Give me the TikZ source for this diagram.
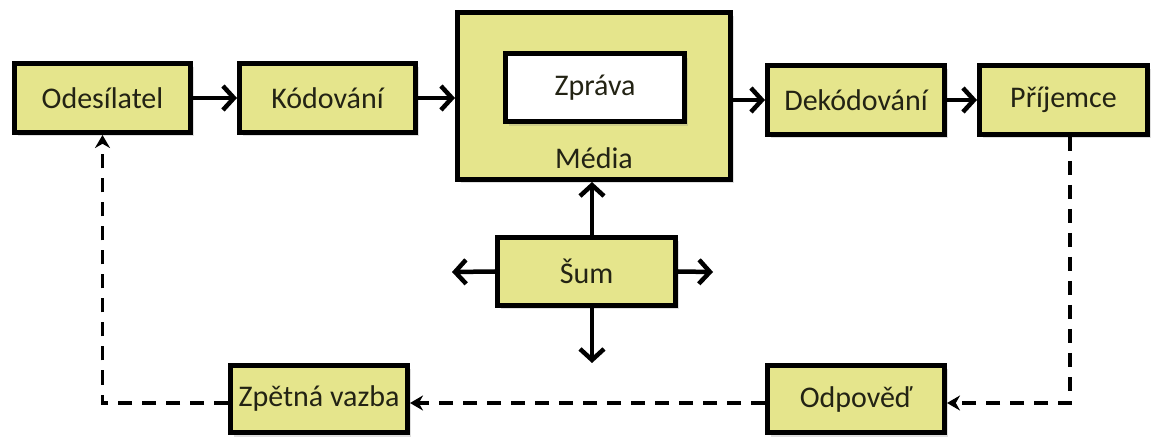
\documentclass[tikz,border=0pt]{standalone}
\usepackage{fontspec}
\setmainfont{Carlito}
\usetikzlibrary{arrows.meta,shadows}

\definecolor{boxfill}{RGB}{229,229,140}
\definecolor{boxtext}{RGB}{35,35,20}

\begin{document}
\begin{tikzpicture}[x=1pt, y=-1pt,
    every node/.style={font=\fontsize{30}{35}\selectfont, text=boxtext, inner sep=0pt},
    stage/.style={draw, line width=5pt, fill=boxfill, minimum width=176pt, minimum height=69pt,
        drop shadow={shadow xshift=3pt, shadow yshift=-4pt, opacity=0.25}},
    flow/.style={line width=4.5pt, -{Straight Barb[length=11pt, width=24pt, line width=4.5pt]}},
    back/.style={line width=3.3pt, dash pattern=on 14pt off 10pt, -{Stealth[length=13pt, width=15pt]}}]
    \useasboundingbox (0,0) rectangle (1157,438);

    % top row
    \node[stage] (odes) at (102.5,98) {Odesílatel};
    \node[stage] (kod) at (327.5,98) {Kódování};
    \node[stage, minimum width=273pt, minimum height=167pt] (media) at (594,96) {};
    \node[draw, line width=5pt, fill=white, minimum width=179pt, minimum height=68pt,
        drop shadow={shadow xshift=3pt, shadow yshift=-4pt, opacity=0.25}] (zprava) at (595,88) {Zpráva};
    \node (medialbl) at (594,158) {Média};
    \node[stage, minimum width=177pt] (dekod) at (856,100) {Dekódování};
    \node[stage, minimum width=168pt] (prij) at (1063.5,100) {Příjemce};

    % noise
    \node[stage, minimum width=178pt, minimum height=68pt] (sum) at (586.5,271.5) {Šum};
    \coordinate (sumL) at (452,272);
    \coordinate (sumR) at (713,272);
    \coordinate (sumD) at (592,363);

    % bottom row
    \node[stage, minimum width=177pt, minimum height=67pt] (zpet) at (319,399) {Zpětná vazba};
    \node[stage, minimum width=177pt, minimum height=67pt] (odp) at (856,399) {Odpověď};
    \coordinate (turn) at (1070,403);

    \draw[flow] (odes) -- (kod);
    \draw[flow] (kod.east) -- (kod.east -| media.west);
    \draw[flow] (dekod.west -| media.east) -- (dekod.west);
    \draw[flow] (dekod) -- (prij);

    \draw[flow] (sum.north -| sumD) -- (media.south -| sumD);
    \draw[flow] (sum.west) -- (sumL);
    \draw[flow] (sum.east) -- (sumR);
    \draw[flow] (sum.south -| sumD) -- (sumD);

    \draw[back] (prij.south -| turn) -- (turn) -- (turn -| odp.east);
    \draw[back] (odp.west |- turn) -- (zpet.east |- turn);
    \draw[back] (zpet.west |- turn) -| (odes.south);
\end{tikzpicture}
\end{document}
